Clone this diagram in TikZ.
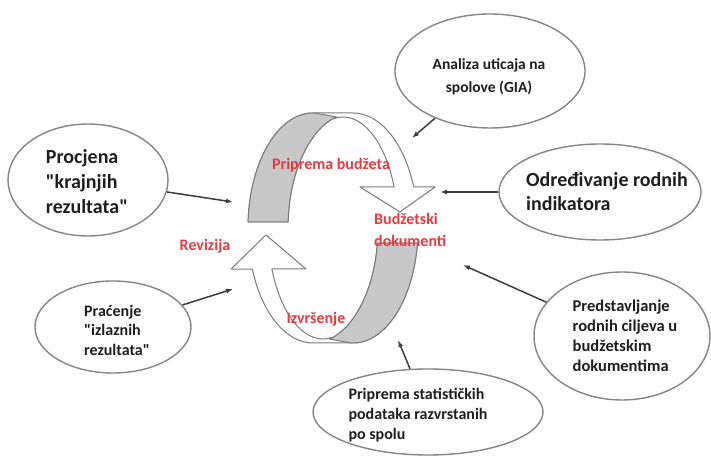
\documentclass[tikz,border=0pt]{standalone}
\usepackage{fontspec}
\setmainfont{Carlito}
\definecolor{CycleRed}{HTML}{E63A3F}
\definecolor{CycleGray}{HTML}{C8C8C8}
\definecolor{CycleEdge}{HTML}{7A7A7A}
\definecolor{BubbleEdge}{HTML}{858585}
\definecolor{InkDark}{HTML}{1E1E1E}
\definecolor{PointerDark}{HTML}{3C3C3C}
\usetikzlibrary{arrows.meta,shapes.geometric}
\tikzset{
  bubble/.style={draw=BubbleEdge, ellipse, line width=1.4pt, fill=white},
  bubbletext/.style={align=left, text=InkDark, inner sep=0pt},
  stage/.style={text=CycleRed, font=\bfseries\fontsize{16}{22}\selectfont, align=left, inner sep=0pt},
  ribbon/.style={draw=CycleEdge, fill=white, line width=1pt, line join=round},
  ribbonface/.style={draw=CycleEdge, fill=CycleGray, line width=1pt, line join=round},
  pointer/.style={-{Latex[length=7pt,width=5pt]}, line width=1.5pt, PointerDark}
}
\newcommand{\cyclearrow}[2]{%
  \path[ribbon] ([shift={(313,229)}]#1:65 and 115)
    arc[start angle=#1, end angle=90, x radius=65, y radius=115]
    -- (353,344) arc[start angle=90, end angle=21, x radius=65, y radius=115]
    -- (435,270) -- (400,#2) -- (360,270) -- (394.1,270)
    arc[start angle=21.7, end angle=100, x radius=55, y radius=111]
    -- ([shift={(353,229)}]105:65 and 115)
    arc[start angle=105, end angle=#1, x radius=65, y radius=115] -- cycle;
  \path[ribbonface] ([shift={(313,229)}]#1:65 and 115)
    arc[start angle=#1, end angle=88, x radius=65, y radius=115]
    -- ([shift={(353,229)}]105:65 and 115)
    arc[start angle=105, end angle=#1, x radius=65, y radius=115] -- cycle;
}
\newcommand{\qt}{\textquotedbl}

\begin{document}
\begin{tikzpicture}[x=1pt,y=1pt]
  \useasboundingbox[fill=white] (0,0) rectangle (711,457);

  \cyclearrow{177}{245}
  \begin{scope}[rotate around={180:(333,229)}]
    \cyclearrow{172.5}{236}
  \end{scope}

  \node[stage] (prep) at (331,292) {Priprema budžeta};
  \node[stage, anchor=west] (docs) at (374,227) {Budžetski\\dokumenti};
  \node[stage] (audit) at (205,211) {Revizija};
  \node[stage] (exec) at (316,138) {Izvršenje};

  \node[bubble, minimum width=190pt, minimum height=114pt] (gia) at (490,386) {};
  \node[bubbletext, align=center, font=\bfseries\fontsize{15.5}{23}\selectfont] (giaText) at (489,380) {Analiza uticaja na\\spolove (GIA)};
  \node[bubble, minimum width=160pt, minimum height=112pt] (proc) at (88,277) {};
  \node[bubbletext, font=\bfseries\fontsize{20}{25}\selectfont] (procText) at (87,275) {Procjena\\\qt krajnjih\\rezultata\qt};
  \node[bubble, minimum width=202pt, minimum height=96pt] (odr) at (600,265) {};
  \node[bubbletext, font=\bfseries\fontsize{20}{24}\selectfont] (odrText) at (607,265) {Određivanje rodnih\\indikatora};
  \node[bubble, minimum width=176pt, minimum height=128pt] (pred) at (622,121) {};
  \node[bubbletext, font=\bfseries\fontsize{16.5}{20}\selectfont] (predText) at (625,121) {Predstavljanje\\rodnih ciljeva u\\budžetskim\\dokumentima};
  \node[bubble, minimum width=230pt, minimum height=86pt] (stat) at (428,45) {};
  \node[bubbletext, font=\bfseries\fontsize{16}{20}\selectfont] (statText) at (418,42) {Priprema statističkih\\podataka razvrstanih\\po spolu};
  \node[bubble, minimum width=156pt, minimum height=92pt] (prac) at (113,130) {};
  \node[bubbletext, font=\bfseries\fontsize{16}{19.5}\selectfont] (pracText) at (117,127) {Praćenje\\\qt izlaznih\\rezultata\qt};

  \coordinate (procTip) at (233,255);
  \coordinate (pracTip) at (233,168);
  \coordinate (giaTip) at (412,319);
  \coordinate (odrTip) at (440,265);
  \coordinate (predTip) at (463,192);
  \coordinate (statTip) at (398,117);

  \draw[pointer] (proc) -- (procTip);
  \draw[pointer] (prac) -- (pracTip);
  \draw[pointer] (gia) -- (giaTip);
  \draw[pointer] (odr) -- (odrTip);
  \draw[pointer] (pred) -- (predTip);
  \draw[pointer] (stat) -- (statTip);
\end{tikzpicture}
\end{document}
